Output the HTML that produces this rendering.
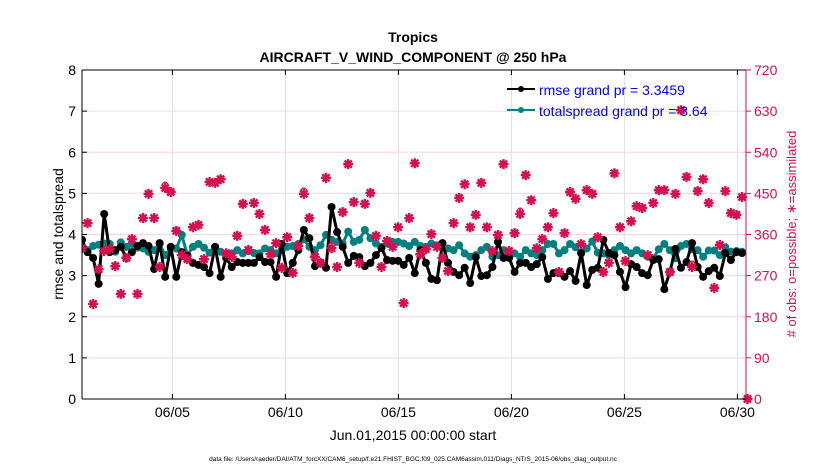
<!DOCTYPE html>
<html><head><meta charset="utf-8">
<style>
html,body{margin:0;padding:0;background:#fff;}
svg{display:block;font-family:"Liberation Sans",Arial,sans-serif;}
</style></head>
<body>
<svg id="chart" width="830" height="470" viewBox="0 0 830 470" xmlns="http://www.w3.org/2000/svg">
  <text x="413" y="42" text-anchor="middle" font-size="14" font-weight="bold">Tropics</text>
  <text x="413" y="62" text-anchor="middle" font-size="14" font-weight="bold">AIRCRAFT_V_WIND_COMPONENT @ 250 hPa</text>
  <g id="grid"></g>
  <g id="marks"></g>
  <g id="axes"></g>
  <text transform="translate(63,234) rotate(-90)" text-anchor="middle" font-size="14">rmse and totalspread</text>
  <text transform="translate(796,234) rotate(-90)" text-anchor="middle" font-size="13" fill="#d6104f"># of obs: o=possible; ∗=assimilated</text>
  <text x="413" y="440" text-anchor="middle" font-size="14">Jun.01,2015 00:00:00 start</text>
  <text x="413" y="461" text-anchor="middle" font-size="6.5">data file: /Users/raeder/DAI/ATM_forcXX/CAM6_setup/f.e21.FHIST_BGC.f09_025.CAM6assim.011/Diags_NTrS_2015-06/obs_diag_output.nc</text>
  <g id="legend">
    <g>
      <line x1="507" y1="89" x2="535" y2="89" stroke="#000" stroke-width="2"/>
      <circle cx="521" cy="89" r="3" fill="#000"/>
      <text x="539" y="95" font-size="14" fill="#0000ff">rmse grand pr = 3.3459</text>
    </g>
    <g>
      <line x1="507" y1="110" x2="535" y2="110" stroke="#008080" stroke-width="2"/>
      <circle cx="521" cy="110" r="3" fill="#008080"/>
      <text x="539" y="116" font-size="14" fill="#0000ff">totalspread grand pr = 3.64</text>
    </g>
  </g>
</svg>
<script>
const xTicks = [5, 10, 15, 20, 25, 30];
const xTickLabels = ["06/05", "06/10", "06/15", "06/20", "06/25", "06/30"];
const yTicks = [0, 1, 2, 3, 4, 5, 6, 7, 8];
const y2Ticks = [0, 90, 180, 270, 360, 450, 540, 630, 720];
const startDay = 1;
const stepDays = 0.2454;
const rmse = [3.87,3.57,3.43,2.80,4.50,3.57,3.62,3.70,3.43,3.57,3.72,3.79,3.72,3.16,3.79,2.97,3.70,2.97,3.57,3.48,3.31,3.26,3.21,3.06,3.70,2.97,3.43,3.21,3.33,3.31,3.31,3.31,3.45,3.33,3.33,2.97,3.77,3.06,3.31,3.62,4.11,3.91,3.23,3.31,3.19,4.67,4.06,3.70,3.31,3.48,3.45,3.23,3.31,3.50,3.67,3.38,3.36,3.36,3.26,3.43,3.06,3.62,3.31,2.92,2.89,3.79,3.31,3.09,3.01,3.19,2.82,3.45,2.99,3.01,3.21,3.82,3.43,3.43,3.09,3.31,3.31,3.21,3.28,3.45,2.92,3.06,3.06,2.97,3.11,2.87,3.55,2.77,3.14,3.19,3.87,3.55,3.50,3.09,2.72,3.28,3.21,3.06,3.01,3.38,3.40,2.67,3.09,3.65,3.19,3.33,3.79,3.21,2.97,3.11,3.19,2.99,3.55,3.38,3.57,3.55];
const totalspread = [3.70,3.62,3.72,3.75,3.78,3.77,3.58,3.81,3.70,3.77,3.68,3.66,3.58,3.62,3.77,3.50,3.66,3.66,3.99,3.50,3.70,3.77,3.68,3.56,3.70,3.58,3.50,3.54,3.62,3.54,3.60,3.55,3.54,3.66,3.62,3.54,3.62,3.70,3.72,3.77,3.88,3.70,3.62,3.74,3.99,3.87,3.82,3.78,4.07,3.82,3.87,4.11,3.91,3.78,3.70,3.78,3.82,3.82,3.78,3.72,3.82,3.72,3.70,3.78,3.74,3.70,3.66,3.62,3.74,3.54,3.46,3.50,3.62,3.70,3.46,3.50,3.62,3.58,3.54,3.46,3.62,3.54,3.50,3.62,3.77,3.77,3.54,3.62,3.77,3.69,3.54,3.66,3.83,3.56,3.54,3.50,3.62,3.72,3.62,3.54,3.62,3.54,3.46,3.42,3.64,3.77,3.62,3.42,3.72,3.77,3.64,3.62,3.46,3.61,3.61,3.50,3.69,3.58,3.60,3.58];
const obsCount = [330,385,208,284,324,328,291,230,309,350,230,396,449,396,289,462,453,368,315,306,376,381,306,475,473,481,319,311,357,427,326,429,405,370,317,341,287,354,276,335,449,396,311,298,484,330,289,409,514,431,298,427,451,357,289,346,333,376,210,396,516,317,328,361,333,309,280,385,440,470,376,403,473,376,324,359,514,324,363,405,490,435,330,350,376,407,278,363,453,438,339,457,449,354,278,298,494,376,302,389,422,418,315,429,457,457,278,449,632,486,289,455,481,429,243,337,455,407,403,442,0];
const possibleIdx = [40, 110, 79, 45, 15];

const L = 82, R = 746, T = 70, B = 399;
const xMin = 1, xMax = 30.38;
const xs = d => L + (d - xMin) / (xMax - xMin) * (R - L);
const ys = v => B - v / 8 * (B - T);
const ys2 = c => B - c / 720 * (B - T);
const NS = "http://www.w3.org/2000/svg";
function mk(tag, attrs, parent) {
  const e = document.createElementNS(NS, tag);
  for (const k in attrs) e.setAttribute(k, attrs[k]);
  parent.appendChild(e);
  return e;
}
const grid = document.getElementById('grid');
const axes = document.getElementById('axes');
const marks = document.getElementById('marks');

xTicks.forEach((d, i) => {
  const gl = mk('line', {x1: xs(d), x2: xs(d), y1: T, y2: B, stroke: '#e2e2e2', 'stroke-width': 1}, grid);
  
  
  mk('line', {x1: xs(d), x2: xs(d), y1: B, y2: B - 5, stroke: '#000'}, axes);
  mk('line', {x1: xs(d), x2: xs(d), y1: T, y2: T + 5, stroke: '#000'}, axes);
  const t = mk('text', {x: xs(d), y: B + 18, 'text-anchor': 'middle', 'font-size': 14}, axes);
  t.textContent = xTickLabels[i];
  
  
});
yTicks.forEach(v => {
  const gl = mk('line', {x1: L, x2: R, y1: ys(v), y2: ys(v), stroke: '#f7d6e1', 'stroke-width': 1}, grid);
  
  
  mk('line', {x1: L, x2: L + 5, y1: ys(v), y2: ys(v), stroke: '#000'}, axes);
  const t = mk('text', {x: L - 6, y: ys(v) + 5, 'text-anchor': 'end', 'font-size': 14}, axes);
  t.textContent = v;
  
  
});
y2Ticks.forEach(c => {
  mk('line', {x1: R, x2: R + 5, y1: ys2(c), y2: ys2(c), stroke: '#d6104f'}, axes);
  const t = mk('text', {x: R + 8, y: ys2(c) + 5, 'font-size': 14, fill: '#d6104f'}, axes);
  t.textContent = c;
  
  
});
mk('line', {x1: L, x2: R, y1: T, y2: T, stroke: '#000'}, axes);
mk('line', {x1: L, x2: R, y1: B, y2: B, stroke: '#000'}, axes);
mk('line', {x1: L, x2: L, y1: T, y2: B, stroke: '#000'}, axes);
mk('line', {x1: R, x2: R, y1: T, y2: B, stroke: '#d6104f'}, axes);

const clip = mk('clipPath', {id: 'pclip'}, marks);
mk('rect', {x: L, y: T - 6, width: R - L + 8, height: B - T + 12}, clip);
const mg = mk('g', {'clip-path': 'url(#pclip)'}, marks);

function series(vals, color, name) {
  const pts = vals.map((v, i) => xs(startDay + i * stepDays).toFixed(1) + ',' + ys(v).toFixed(1)).join(' ');
  const pl = mk('polyline', {points: pts, fill: 'none', stroke: color, 'stroke-width': 3, 'stroke-linejoin': 'round'}, mg);
  
  
  vals.forEach((v, i) => {
    const c = mk('circle', {cx: xs(startDay + i * stepDays), cy: ys(v), r: 4, fill: color}, mg);
    
    
  });
}
series(totalspread, '#008080', 'totalspread');
series(rmse, '#000000', 'rmse');

obsCount.forEach((c, i) => {
  const x = xs(startDay + i * stepDays), y = ys2(c);
  const g = mk('g', {}, mg);
  
  
  mk('path', {d: `M${x-5},${y}H${x+5}M${x},${y-5}V${y+5}M${x-3.6},${y-3.6}L${x+3.6},${y+3.6}M${x-3.6},${y+3.6}L${x+3.6},${y-3.6}`, stroke: '#d6104f', 'stroke-width': 2.4}, g);
  mk('circle', {cx: x, cy: y, r: 3.2, fill: '#d6104f'}, g);
});
possibleIdx.forEach(i => {
  const o = mk('circle', {cx: xs(startDay + i * stepDays), cy: ys2(obsCount[i]) - 3, r: 2.8, fill: 'none', stroke: '#d6104f', 'stroke-width': 1.2}, mg);
  
  
});
</script>
</body></html>
